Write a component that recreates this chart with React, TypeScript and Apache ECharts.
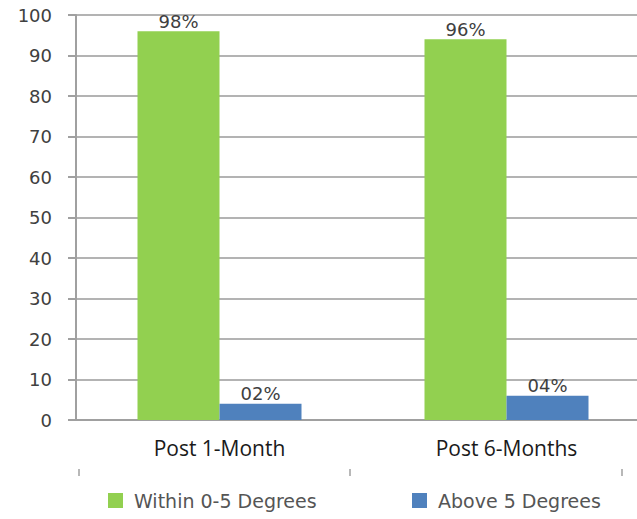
import React, { useEffect, useRef } from "react";
import * as echarts from "echarts";

const categories = ["Post 1-Month", "Post 6-Months"];
const withinValues = [96, 94];
const aboveValues = [4, 6];
const withinLabels = ["98%", "96%"];
const aboveLabels = ["02%", "04%"];
const yTicks = { min: 0, max: 100, interval: 10 };

export default function App() {
  const ref = useRef<HTMLDivElement>(null);
  useEffect(() => {
    if (!ref.current) return;
    const chart = echarts.init(ref.current, null, { renderer: "svg" });
    const labelFont = { fontFamily: "'DejaVu Sans', sans-serif", fontSize: 18, color: "#404040" };
    const legendText = { fontFamily: "'DejaVu Sans', sans-serif", fontSize: 19, color: "#555", padding: [0, 0, 0, 6] };
    chart.setOption({
      animation: false,
      grid: { left: 76, top: 15, width: 574, height: 405, containLabel: false },
      xAxis: {
        type: "category",
        data: categories,
        axisLine: { lineStyle: { color: "#a0a0a0", width: 2 } },
        axisTick: { length: 6, lineStyle: { color: "#a0a0a0", width: 2 } },
        axisLabel: { fontFamily: "'Open Sans', sans-serif", fontSize: 21, color: "#1a1a1a", margin: 17 },
      },
      yAxis: {
        type: "value",
        min: yTicks.min,
        max: yTicks.max,
        interval: yTicks.interval,
        axisLine: { show: true, lineStyle: { color: "#a0a0a0", width: 2 } },
        axisTick: { show: true, length: 8, lineStyle: { color: "#a0a0a0", width: 2 } },
        axisLabel: { ...labelFont, margin: 24 },
        splitLine: { lineStyle: { color: "#9a9a9a", width: 1.5 } },
      },
      legend: [
        {
          data: ["Within 0-5 Degrees"],
          left: 108, top: 491, padding: 0, itemWidth: 15, itemHeight: 15, itemGap: 0,
          icon: "rect",
          textStyle: legendText,
        },
        {
          data: ["Above 5 Degrees"],
          left: 412, top: 491, padding: 0, itemWidth: 15, itemHeight: 15, itemGap: 0,
          icon: "rect",
          textStyle: legendText,
        },
      ],
      graphic: [79, 350, 622].map((x) => ({
        type: "line",
        shape: { x1: x, y1: 469, x2: x, y2: 476 },
        style: { stroke: "#a0a0a0", lineWidth: 1.5 },
      })),
      series: [
        {
          name: "Within 0-5 Degrees",
          type: "bar",
          data: withinValues,
          barWidth: 82,
          barGap: "0%",
          itemStyle: { color: "#92d050" },
          label: {
            show: true, position: "top", distance: 1, ...labelFont,
            formatter: (p: any) => withinLabels[p.dataIndex],
          },
        },
        {
          name: "Above 5 Degrees",
          type: "bar",
          data: aboveValues,
          barWidth: 82,
          barGap: "0%",
          itemStyle: { color: "#4f81bd" },
          label: {
            show: true, position: "top", distance: 1, ...labelFont,
            formatter: (p: any) => aboveLabels[p.dataIndex],
          },
        },
      ],
    });
    return () => chart.dispose();
  }, []);
  return (
    <div style={{ width: 637, height: 519, position: "absolute", left: 0, top: 0, overflow: "hidden" }}>
      <div ref={ref} style={{ width: 660, height: 519 }} />
    </div>
  );
}
